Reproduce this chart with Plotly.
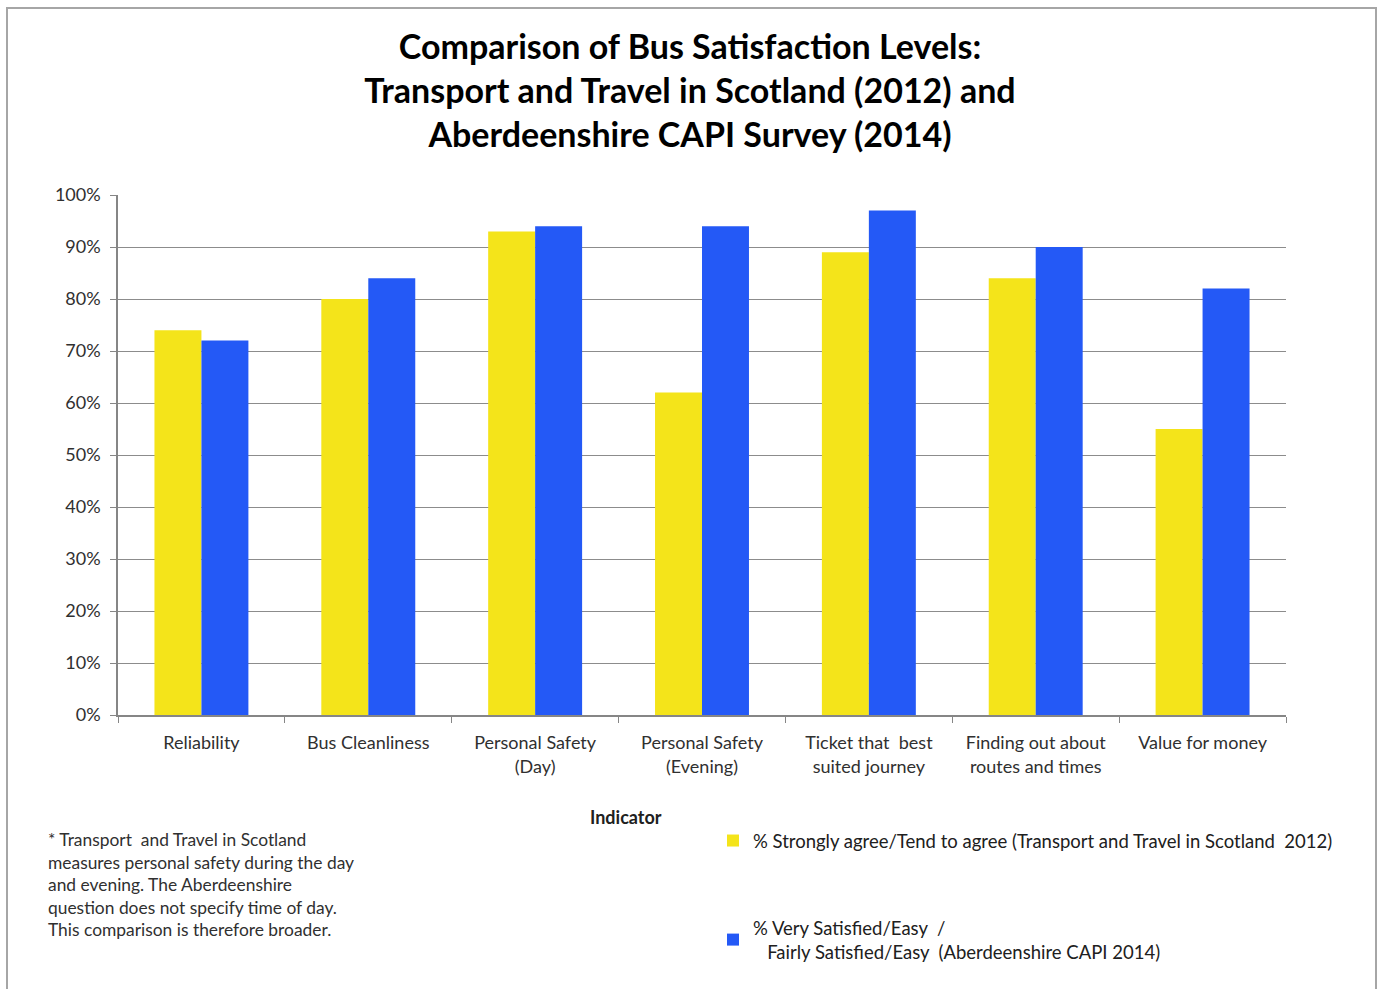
import plotly.graph_objects as go

categories = ["Reliability", "Bus Cleanliness", "Personal Safety<br>(Day)",
              "Personal Safety<br>(Evening)", "Ticket that  best<br>suited journey",
              "Finding out about<br>routes and times", "Value for money"]
tts_2012 = [0.74, 0.80, 0.93, 0.62, 0.89, 0.84, 0.55]
capi_2014 = [0.72, 0.84, 0.94, 0.94, 0.97, 0.90, 0.82]
series_names = ["% Strongly agree/Tend to agree (Transport and Travel in Scotland  2012)",
                "% Very Satisfied/Easy  /<br>   Fairly Satisfied/Easy  (Aberdeenshire CAPI 2014)"]
y_ticks = [0, 0.1, 0.2, 0.3, 0.4, 0.5, 0.6, 0.7, 0.8, 0.9, 1.0]

YELLOW = "#F4E41A"
BLUE = "#2459F6"
FONT = "Lato, 'Open Sans', sans-serif"

W, H = 1382, 989
L, R, T, B = 118, 1286, 195, 715

def px_x(x):
    return (x - L) / (R - L)

def px_y(y):
    return (B - y) / (B - T)

fig = go.Figure()
fig.add_trace(go.Bar(x=categories, y=tts_2012, name=series_names[0],
                     marker=dict(color=YELLOW, line=dict(width=0)), legendgroup="a"))
fig.add_trace(go.Bar(x=categories, y=capi_2014, name=series_names[1],
                     marker=dict(color=BLUE, line=dict(width=0)), legendgroup="b"))

fig.update_layout(
    width=W, height=H,
    margin=dict(l=L, r=W - R, t=T, b=H - B, pad=0),
    paper_bgcolor="white", plot_bgcolor="white",
    barmode="group", bargap=0.437, bargroupgap=0,
    font=dict(family=FONT, size=18, color="#404040"),
    title=dict(
        text="Comparison of Bus Satisfaction Levels:<br>Transport and Travel in Scotland (2012) and<br>Aberdeenshire CAPI Survey (2014)",
        x=690 / W, xanchor="center", xref="container", y=1 - 59 / H, yanchor="middle",
        font=dict(family=FONT, size=34, color="#000000", weight="bold"),
    ),
    showlegend=True,
    legend=dict(
        x=px_x(713), xanchor="left", y=px_y(822), yanchor="top",
        font=dict(family=FONT, size=18.5, color="#202020"),
        tracegroupgap=60, itemclick=False, bgcolor="rgba(0,0,0,0)",
    ),
    xaxis=dict(
        showline=True, linecolor="#868686", linewidth=1.5,
        ticks="outside", tickson="boundaries", ticklen=6, tickcolor="#868686",
        tickfont=dict(family=FONT, size=18, color="#303030"),
        ticklabelstandoff=11,
        showgrid=False, range=[-0.5, 6.5],
    ),
    yaxis=dict(
        range=[0, 1.0], tickvals=y_ticks, tickformat=".0%",
        showline=True, linecolor="#868686", linewidth=1.5,
        ticks="outside", ticklen=6, tickcolor="#868686",
        showgrid=True, gridcolor="#8C8C8C", gridwidth=1.2,
        tickfont=dict(family=FONT, size=18, color="#303030"),
        ticklabelstandoff=6,
        zeroline=False,
    ),
    annotations=[
        dict(text="<b>Indicator</b>", xref="paper", yref="paper",
             x=px_x(626), y=px_y(817), xanchor="center", yanchor="middle",
             showarrow=False, font=dict(family=FONT, size=18, color="#202020")),
        dict(text="* Transport  and Travel in Scotland<br>measures personal safety during the day<br>and evening. The Aberdeenshire<br>question does not specify time of day.<br>This comparison is therefore broader.",
             xref="paper", yref="paper", x=px_x(46), y=px_y(827),
             xanchor="left", yanchor="top", align="left", showarrow=False,
             font=dict(family=FONT, size=17.4, color="#303030")),
    ],
    shapes=[
        dict(type="rect", xref="paper", yref="paper",
             x0=px_x(7), x1=px_x(1376), y0=px_y(1000), y1=px_y(8),
             line=dict(color="#A6A6A6", width=2), fillcolor="rgba(0,0,0,0)", layer="below"),
    ],
)

fig.write_html("out.html")
